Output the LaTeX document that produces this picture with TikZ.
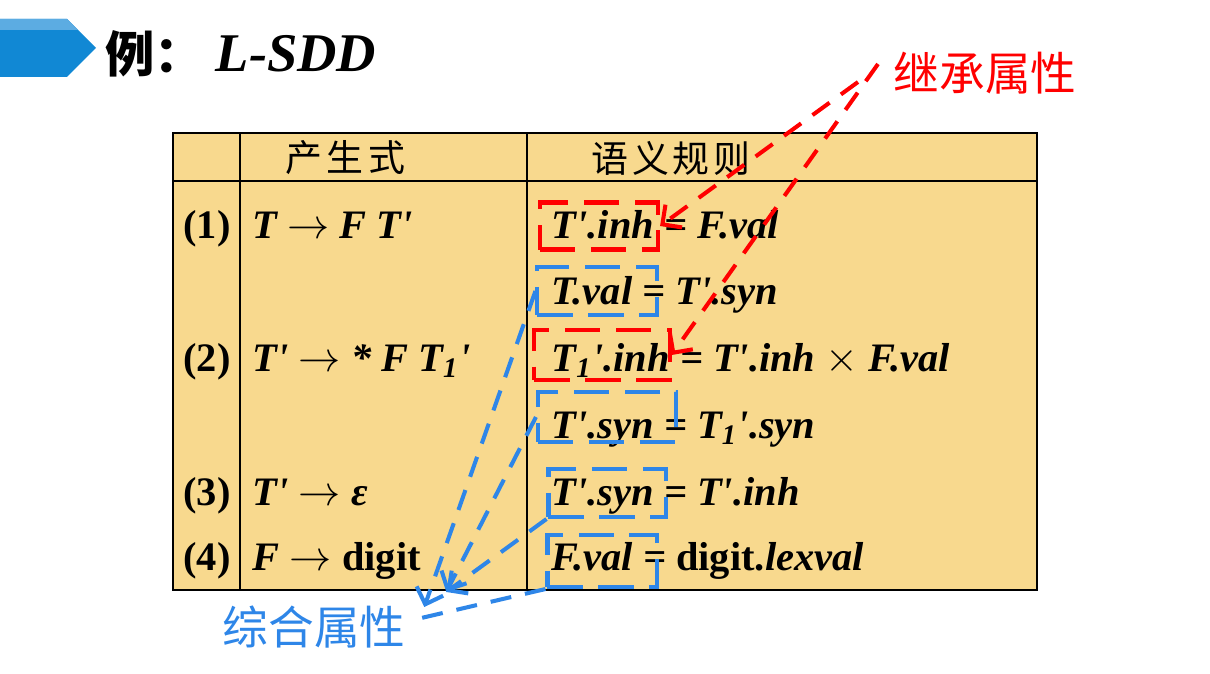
\documentclass[tikz,border=0pt]{standalone}
\usepackage{fontspec}
\setmainfont{Liberation Serif}
\newfontfamily\cjk{Noto Sans CJK SC}
\usetikzlibrary{
    positioning,
    arrows.meta,
    calc
}
\definecolor{tablefill}{RGB}{248,217,142}
\definecolor{bannerblue}{RGB}{17,136,212}
\definecolor{bannerlight}{RGB}{92,172,226}
\definecolor{synblue}{RGB}{46,134,232}
\newcommand{\prm}{\textquotesingle}

\begin{document}
\begin{tikzpicture}[
    x=0.01cm, y=-0.01cm,
    cell/.style={inner sep=0pt, anchor=base, font=\fontsize{11.5}{13}\selectfont\bfseries},
    header/.style={inner sep=0pt, font=\cjk\fontsize{10.5}{12}\selectfont},
    rownum/.style={cell},
    prod/.style={cell, anchor=base west, font=\fontsize{11.5}{13}\selectfont\bfseries\itshape},
    rule/.style={prod},
    attrbox/.style={
        rectangle,
        line width=1.15pt,
        dash pattern=on 10pt off 4.5pt,
        inner sep=0pt
    },
    inhbox/.style={attrbox, draw=red},
    synbox/.style={attrbox, draw=synblue},
    inhline/.style={line width=1.15pt, dash pattern=on 6pt off 4pt, color=red},
    synline/.style={line width=1.15pt, dash pattern=on 6pt off 4pt, color=synblue},
    tip/.style={-{Straight Barb[length=4pt,width=8pt]}}
]
\useasboundingbox (0,0) rectangle (1210,673);

% Title banner
\fill[bannerblue] (0,19) -- (67,19) -- (96,48) -- (67,77) -- (0,77) -- cycle;
\fill[bannerlight] (0,19) -- (67,19) -- (78,30) -- (0,30) -- cycle;
\node[anchor=west, inner sep=0pt, font=\cjk\fontsize{14}{16}\selectfont\bfseries] (ex) at (105,54) {例：};
\node[anchor=west, inner sep=0pt, font=\fontsize{15.5}{18}\selectfont\bfseries\itshape] (lsdd) at (215,54) {L-SDD};

% Table frame
\fill[tablefill] (173,133) rectangle (1037,590);
\draw[line width=0.5pt] (240,133) -- (240,590);
\draw[line width=0.5pt] (527,133) -- (527,590);
\draw[line width=0.6pt] (173,181) -- (1037,181);
\draw[line width=0.8pt] (173,133) rectangle (1037,590);

% Header
\node[header] (hprod) at (345,158) {产\kern1.3pt 生\kern1.3pt 式};
\node[header] (hrule) at (671,158) {语\kern1pt 义\kern1pt 规\kern1pt 则};

% Row numbers
\foreach \n/\y in {1/238,2/371,3/505,4/570}
    \node[rownum] (num\n) at (207,\y) {(\n)};

% Productions
\node[prod] (p1) at (252,238) {T $\rightarrow$ F T\prm};
\node[prod] (p2) at (252,371) {T\prm{} $\rightarrow$ * F T\textsubscript{1}\prm};
\node[prod] (p3) at (252,505) {T\prm{} $\rightarrow$ ε};
\node[prod] (p4) at (252,570) {F $\rightarrow$ {\upshape digit}};

% Semantic rules
\node[rule] (r1) at (551,238) {T\prm.inh = F.val};
\node[rule] (r2) at (551,304) {T.val = T\prm.syn};
\node[rule] (r3) at (551,371) {T\textsubscript{1}\prm.inh = T\prm.inh $\times$ F.val};
\node[rule] (r4) at (551,438) {T\prm.syn = T\textsubscript{1}\prm.syn};
\node[rule] (r5) at (551,505) {T\prm.syn = T\prm.inh};
\node[rule] (r6) at (551,570) {F.val = {\upshape digit.}lexval};

% Attribute boxes
\node[inhbox, minimum width=1.18cm, minimum height=0.47cm] (redA) at (599,226) {};
\node[synbox, minimum width=1.19cm, minimum height=0.48cm] (blueA) at (597,291) {};
\node[inhbox, minimum width=1.35cm, minimum height=0.50cm] (redB) at (602,355) {};
\node[synbox, minimum width=1.38cm, minimum height=0.50cm] (blueB) at (607,417) {};
\node[synbox, minimum width=1.17cm, minimum height=0.48cm] (blueC) at (607,493) {};
\node[synbox, minimum width=1.09cm, minimum height=0.52cm] (blueD) at (602,561) {};

% Labels
\node[anchor=west, inner sep=0pt, text=red, font=\cjk\fontsize{13}{15}\selectfont] (inh) at (893,73) {继承属性};
\node[anchor=west, inner sep=0pt, text=synblue, font=\cjk\fontsize{13}{15}\selectfont] (syn) at (222,627) {综合属性};

% Inherited attribute arrows
\draw[inhline, tip] ([xshift=-0.35cm,yshift=-0.09cm]inh.west) -- (redA.east);
\draw[inhline, tip] ([xshift=-0.15cm,yshift=0.09cm]inh.west) -- (redB.east);

% Synthesized attribute arrows
\draw[synline, tip] (blueA.west) -- ([xshift=0.18cm,yshift=0.20cm]syn.east);
\draw[synline, tip] (blueB.west) -- ([xshift=0.40cm,yshift=0.35cm]syn.east);
\draw[synline, tip] (blueC.south west) -- ([xshift=0.40cm,yshift=0.35cm]syn.east);
\draw[synline] (blueD.south west) -- ([xshift=0.15cm,yshift=0.09cm]syn.east);

\end{tikzpicture}
\end{document}
